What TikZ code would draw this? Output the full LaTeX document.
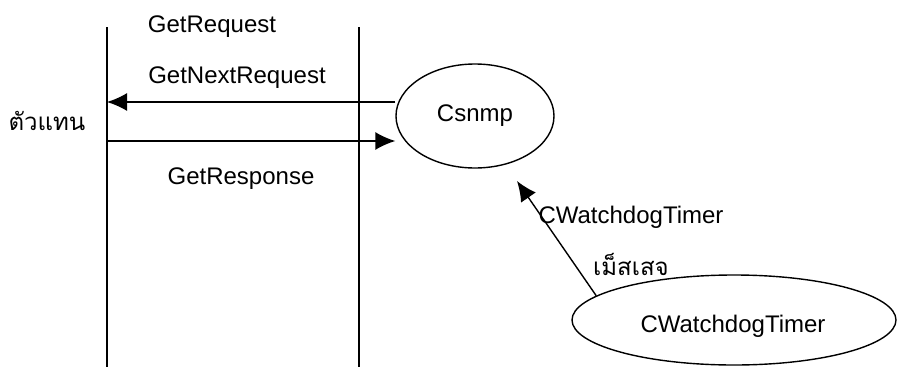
\documentclass[tikz,border=0pt]{standalone}
\usepackage{fontspec}
\setmainfont{Liberation Sans}
\newfontfamily\thaifont[Script=Thai]{Loma}
\usetikzlibrary{shapes.geometric,arrows.meta}
\tikzset{
  lbl/.style={anchor=base,inner sep=0pt,font=\fontsize{24}{28}\selectfont},
  thlbl/.style={anchor=base,inner sep=0pt,font=\thaifont\fontsize{24}{28}\selectfont},
  proc/.style={draw,ellipse,line width=1.4pt,inner sep=0pt,font=\fontsize{24}{28}\selectfont},
  ln/.style={line width=1.5pt},
  arr/.style={line width=1.4pt,-{Latex[length=20pt,width=18pt]}}
}
\begin{document}
\begin{tikzpicture}[x=1pt,y=-1pt]
\useasboundingbox (0,0) rectangle (897,367);
\coordinate (Ltop) at (107,27);
\coordinate (Lbot) at (107,367);
\coordinate (Rtop) at (359,27);
\coordinate (Rbot) at (359,367);
\draw[ln] (Ltop) -- (Lbot);
\draw[ln] (Rtop) -- (Rbot);
\node[proc,minimum width=158pt,minimum height=104pt] (csnmp) at (475,116) {Csnmp};
\node[proc,minimum width=324pt,minimum height=90pt] (wd) at (734,320) {};
\node[lbl] (wdtext) at (733,332) {CWatchdogTimer};
\coordinate (resp) at (107,141);
\coordinate (wdend) at (517,181);
\draw[arr] (csnmp.west |- 0,102) -- (Ltop |- 0,102);
\draw[arr] (resp) -- (resp -| csnmp.west);
\draw[arr] (wd.170) -- (wdend);
\node[lbl] (getreq) at (212,32) {GetRequest};
\node[lbl] (getnext) at (237,83) {GetNextRequest};
\node[thlbl] (agent) at (47,130) {ตัวแทน};
\node[lbl] (getresp) at (241,184) {GetResponse};
\node[lbl] (wdlbl) at (631,223) {CWatchdogTimer};
\node[thlbl] (msg) at (631,275) {เม็สเสจ};
\end{tikzpicture}
\end{document}
